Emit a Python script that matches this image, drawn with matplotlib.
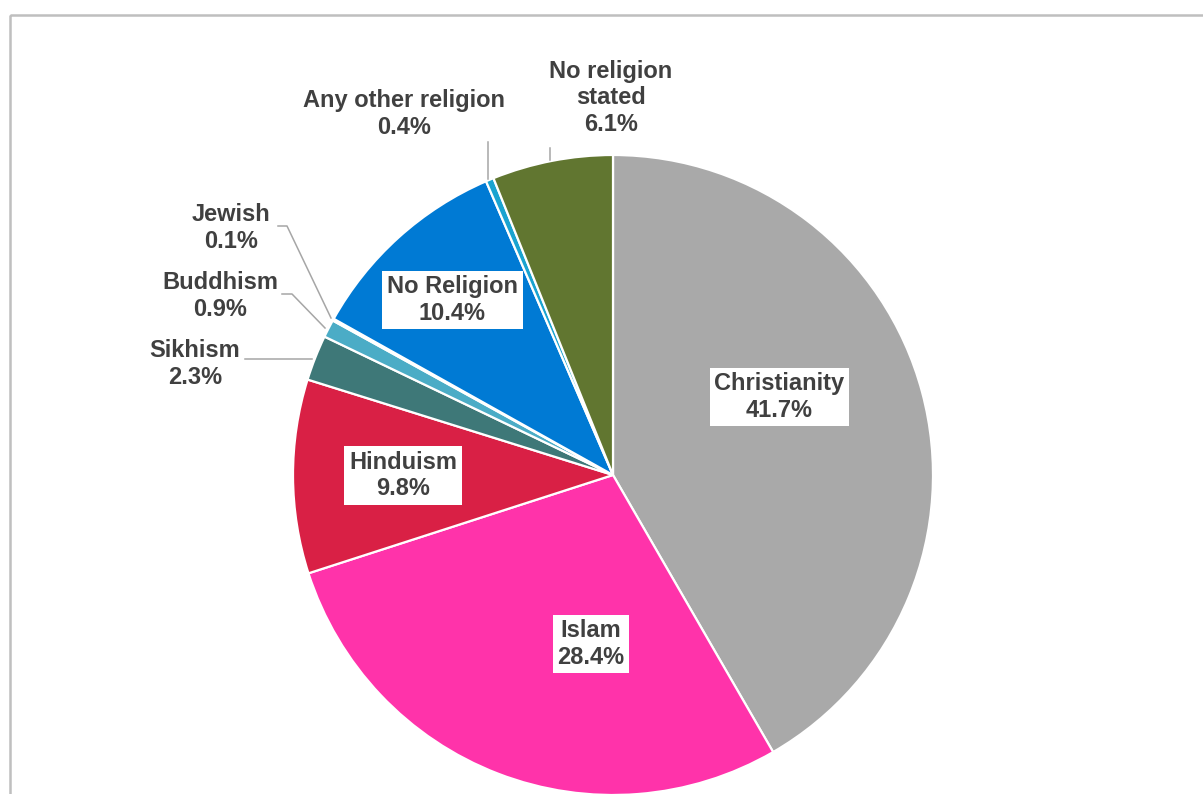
import matplotlib
matplotlib.use("Agg")
import matplotlib.pyplot as plt
from matplotlib.patches import Rectangle

# ---- data ----
categories = ["Christianity", "Islam", "Hinduism", "Sikhism", "Buddhism",
              "Jewish", "No Religion", "Any other religion", "No religion stated"]
values = [41.7, 28.4, 9.8, 2.3, 0.9, 0.1, 10.4, 0.4, 6.1]
label_names = ["Christianity", "Islam", "Hinduism", "Sikhism", "Buddhism",
               "Jewish", "No Religion", "Any other religion", "No religion\nstated"]

# ---- styles / layout ----
colors = ["#A9A9A9", "#FF33AA", "#D92045", "#3E7878", "#4BACC6",
          "#1F4E79", "#007AD4", "#1AA3D0", "#617630"]
W, H = 1203, 794
def py(y):
    return H - y

# label centres in pixel coords (x, y from top), and whether boxed
label_pos = [(779.5, 397, True), (591, 644, True), (403, 475.5, True),
             (195, 364, False), (220, 296, False), (231, 228, False),
             (452.5, 300, True), (404, 114, False), (611, 98, False)]
leaders = [
    [(245, 359), (312, 359)],                 # Sikhism
    [(282, 294), (292, 294), (325, 328)],     # Buddhism
    [(278, 226), (287, 226), (331, 318)],     # Jewish
    [(488, 142), (488, 179)],                 # Any other religion
    [(550, 148), (550, 160)],                 # No religion stated
]

fig = plt.figure(figsize=(W / 100, H / 100), dpi=100)
ax = fig.add_axes([0, 0, 1, 1])

ax.pie(values, colors=colors, startangle=90, counterclock=False,
       center=(613, py(475)), radius=320,
       wedgeprops=dict(edgecolor="white", linewidth=1.6))
ax.set_xlim(0, W)
ax.set_ylim(0, H)
ax.set_aspect("equal")
ax.axis("off")

# outer frame
ax.add_patch(Rectangle((10, py(15)), W, -H, fill=False,
                       edgecolor="#BFBFBF", linewidth=1.8, zorder=0.5))

for pts in leaders:
    xs = [p[0] for p in pts]
    ys = [py(p[1]) for p in pts]
    ax.plot(xs, ys, color="#A6A6A6", linewidth=1.1, zorder=3)

for name, v, (x, y, boxed) in zip(label_names, values, label_pos):
    kw = dict(ha="center", va="center", fontsize=17, fontweight="bold",
              color="#404040", family=["Liberation Sans", "DejaVu Sans"],
              linespacing=1.18, zorder=5)
    if boxed:
        kw["bbox"] = dict(boxstyle="square,pad=0.2", fc="white", ec="none")
    ax.text(x, py(y), f"{name}\n{v:.1f}%", **kw)

fig.savefig("out.png", dpi=100)
